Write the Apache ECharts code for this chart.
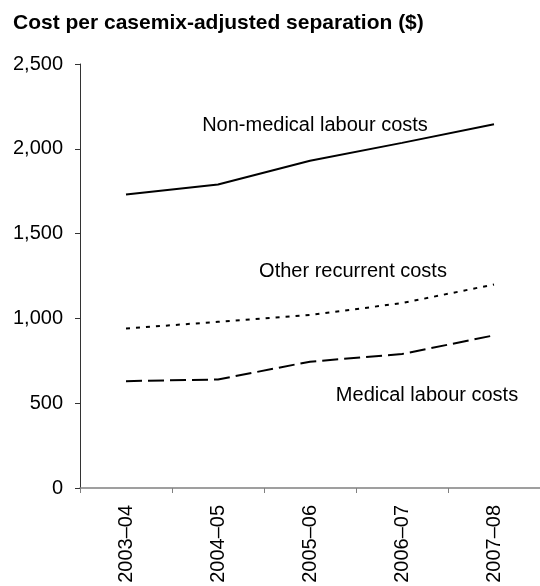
<!DOCTYPE html>
<html>
<head>
<meta charset="utf-8">
<script src="https://cdn.jsdelivr.net/npm/echarts@6/dist/echarts.min.js"></script>
<style>
  html, body { margin: 0; padding: 0; background: #fff; }
  #chart { width: 540px; height: 586px; }
</style>
</head>
<body>
<div id="chart"></div>
<script>
var years = ['2003–04', '2004–05', '2005–06', '2006–07', '2007–08'];
var non_medical = [1730, 1790, 1930, 2035, 2145];
var other_recurrent = [940, 980, 1020, 1090, 1200];
var medical = [630, 640, 745, 790, 900];

var font = 'Liberation Sans, Arial, sans-serif';

chart = echarts.init(document.getElementById('chart'));

function get_line(name, data, type) {
    return {
        name: name,
        type: 'line',
        data: data,
        symbol: 'none',
        lineStyle: { color: '#000', width: 2, type: type },
        silent: true
    }
}

chart.setOption({
    animation: false,
    textStyle: { fontFamily: font },
    grid: { left: 80, top: 64, bottom: 98, right: -9 },
    xAxis: {
        type: 'category',
        data: years,
        boundaryGap: true,
        axisLine: { lineStyle: { color: '#808080', width: 1.5 } },
        axisTick: { show: true, length: 5, lineStyle: { color: '#808080' } },
        axisLabel: { rotate: 90, margin: 17, fontSize: 20, color: '#000', fontFamily: font }
    },
    yAxis: {
        type: 'value',
        min: 0,
        max: 2500,
        interval: 500,
        splitLine: { show: false },
        axisLine: { show: true, lineStyle: { color: '#333', width: 1 } },
        axisTick: { show: true, length: 5, lineStyle: { color: '#333' } },
        axisLabel: {
            margin: 17, fontSize: 20, color: '#000', fontFamily: font,
            formatter: function (v) { return v.toLocaleString('en-US') }
        }
    },
    graphic: [
        { type: 'text', left: 13, top: 13,
          style: { text: 'Cost per casemix-adjusted separation ($)', fill: '#000', font: 'bold 21px ' + font } },
        { type: 'text', x: 315, y: 125,
          style: { text: 'Non-medical labour costs', fill: '#000', font: '20px ' + font, align: 'center', verticalAlign: 'middle' } },
        { type: 'text', x: 353, y: 271,
          style: { text: 'Other recurrent costs', fill: '#000', font: '20px ' + font, align: 'center', verticalAlign: 'middle' } },
        { type: 'text', x: 427, y: 395,
          style: { text: 'Medical labour costs', fill: '#000', font: '20px ' + font, align: 'center', verticalAlign: 'middle' } }
    ],
    series: [
        get_line('Non-medical labour costs', non_medical, 'solid'),
        get_line('Other recurrent costs', other_recurrent, [4, 6]),
        get_line('Medical labour costs', medical, [16, 6])
    ]
});
</script>
</body>
</html>
